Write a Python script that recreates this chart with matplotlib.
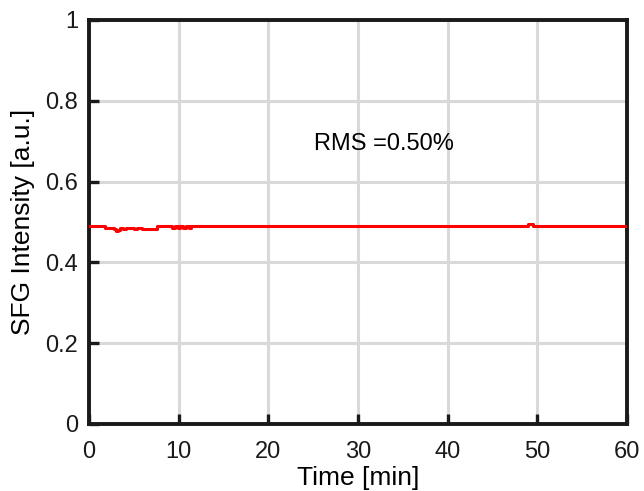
import matplotlib
matplotlib.use("Agg")
import matplotlib.pyplot as plt

plt.rcParams['font.family'] = ['Liberation Sans', 'DejaVu Sans']

# Data (time in minutes, intensity in a.u.)
time_min = [0.0, 0.5, 1.0, 1.5, 1.8, 2.0, 2.3, 2.6, 2.8, 3.0, 3.2, 3.5, 3.8,
            4.1, 4.4, 4.7, 5.0, 5.3, 5.6, 5.9, 6.3, 6.7, 7.1, 7.4, 7.6,
            8.0, 8.5, 9.0, 9.3, 9.6, 9.9, 10.2, 10.5, 10.8, 11.1, 11.4, 11.6,
            15.0, 20.0, 30.0, 40.0, 48.9, 49.0, 49.4, 49.5, 55.0, 60.0]
intensity = [0.490, 0.491, 0.491, 0.490, 0.486, 0.485, 0.486, 0.484, 0.482, 0.478, 0.481,
             0.485, 0.483, 0.486, 0.484, 0.486, 0.483, 0.486, 0.484, 0.482, 0.483,
             0.482, 0.483, 0.482, 0.490, 0.491, 0.491, 0.490, 0.486, 0.490, 0.485,
             0.489, 0.485, 0.490, 0.486, 0.489, 0.491, 0.491, 0.491, 0.491, 0.491,
             0.491, 0.495, 0.495, 0.491, 0.491, 0.491]
x_ticks = [0, 10, 20, 30, 40, 50, 60]
y_ticks = [0, 0.2, 0.4, 0.6, 0.8, 1]
y_tick_labels = ['0', '0.2', '0.4', '0.6', '0.8', '1']
rms_text = 'RMS =0.50%'

fig = plt.figure(figsize=(6.44, 4.91), dpi=100)
ax = fig.add_axes([89/644, 1-424/491, (627-89)/644, (424-20)/491])

ax.plot(time_min, intensity, color='red', lw=2.2, drawstyle='steps-post', zorder=3)

ax.set_xlim(0, 60)
ax.set_ylim(0, 1)
ax.set_xticks(x_ticks)
ax.set_yticks(y_ticks)
ax.set_yticklabels(y_tick_labels)
ax.grid(True, color='#d9d9d9', lw=2.2, zorder=0)
ax.set_axisbelow(True)
for s in ax.spines.values():
    s.set_linewidth(2.8)
    s.set_color('#1a1a1a')
ax.tick_params(direction='in', length=7, width=2.4, labelsize=17, pad=8,
               top=False, right=False, colors='#1a1a1a')
ax.tick_params(axis='x', pad=12)

ax.set_xlabel('Time [min]', fontsize=19)
ax.xaxis.set_label_coords(0.5, -(478 - 424) / 404, transform=ax.transAxes)
ax.xaxis.label.set_va('center')
ax.set_ylabel('SFG Intensity [a.u.]', fontsize=19, labelpad=7)

ax.text(32.9, 0.694, rms_text, fontsize=17, ha='center', va='center')

fig.savefig('out.png', dpi=100)
